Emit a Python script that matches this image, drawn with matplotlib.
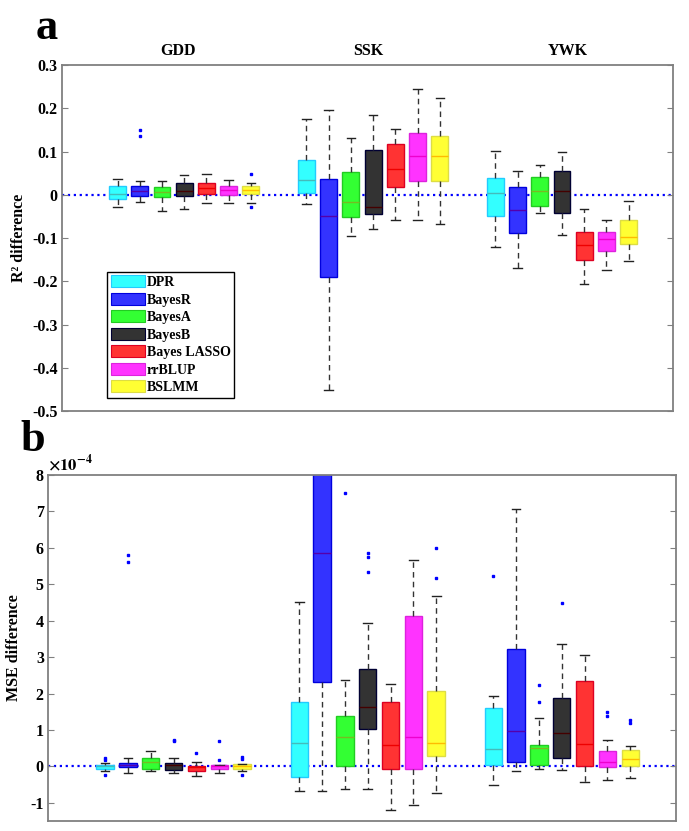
import numpy as np
import matplotlib
matplotlib.use('Agg')
from matplotlib import pyplot as plt
from matplotlib.patches import Patch

plt.rcParams['font.family'] = ['Liberation Serif', 'DejaVu Serif']
plt.rcParams['font.weight'] = 'bold'
plt.rcParams['axes.unicode_minus'] = False
plt.rcParams['mathtext.fontset'] = 'stix'

methods = ['DPR', 'BayesR', 'BayesA', 'BayesB', 'Bayes LASSO', 'rrBLUP', 'BSLMM']
groups = ['GDD', 'SSK', 'YWK']

face_colors = ['#33ffff', '#3333ff', '#33ff33', '#333333', '#ff3333', '#ff33ff', '#ffff33']
edge_colors = ['#22ccff', '#0000dd', '#22cc22', '#000033', '#dd0022', '#dd22dd', '#dddd44']
median_colors = ['#44bbbb', '#5500aa', '#77bb22', '#440000', '#ee0000', '#ee00cc', '#ffbb00']

# R2 difference, order: GDD x7, SSK x7, YWK x7
r2_whislo = [-0.028, -0.017, -0.038, -0.032, -0.019, -0.019, -0.018,
             -0.022, -0.452, -0.095, -0.078, -0.058, -0.058, -0.067,
             -0.121, -0.169, -0.042, -0.092, -0.206, -0.173, -0.154]
r2_q1 = [-0.009, -0.002, -0.005, -0.002, 0.001, 0.000, 0.0015,
         0.003, -0.189, -0.052, -0.044, 0.017, 0.032, 0.032,
         -0.049, -0.089, -0.025, -0.042, -0.150, -0.129, -0.114]
r2_med = [0.002, 0.009, 0.0075, 0.008, 0.016, 0.0115, 0.0115,
          0.034, -0.050, -0.017, -0.028, 0.059, 0.090, 0.089,
          0.005, -0.035, 0.008, 0.008, -0.117, -0.102, -0.098]
r2_q3 = [0.021, 0.021, 0.019, 0.027, 0.028, 0.021, 0.020,
         0.080, 0.036, 0.052, 0.104, 0.117, 0.142, 0.135,
         0.039, 0.019, 0.042, 0.056, -0.086, -0.085, -0.058]
r2_whishi = [0.036, 0.031, 0.031, 0.045, 0.049, 0.034, 0.027,
             0.176, 0.196, 0.131, 0.185, 0.152, 0.245, 0.224,
             0.102, 0.054, 0.069, 0.100, -0.033, -0.058, -0.015]
r2_fliers = [[], [0.150, 0.137], [], [], [], [], [0.049, -0.028],
             [], [], [], [], [], [], [],
             [], [], [], [], [], [], []]

# MSE difference, in units of 1e-4
mse_whislo = [-0.12, -0.17, -0.13, -0.17, -0.26, -0.17, -0.12,
              -0.68, -0.68, -0.63, -0.62, -1.19, -1.05, -0.73,
              -0.50, -0.13, -0.07, -0.09, -0.42, -0.38, -0.31]
mse_q1 = [-0.06, -0.03, -0.07, -0.09, -0.12, -0.08, -0.06,
          -0.28, 2.33, 0.02, 1.04, -0.06, -0.06, 0.28,
          0.04, 0.11, 0.04, 0.23, 0.00, -0.02, 0.00]
mse_med = [0.00, 0.03, 0.12, 0.03, -0.03, 0.00, 0.02,
           0.65, 5.87, 0.82, 1.63, 0.60, 0.82, 0.64,
           0.49, 0.97, 0.51, 0.93, 0.61, 0.13, 0.19]
mse_q3 = [0.05, 0.10, 0.22, 0.10, 0.00, 0.04, 0.06,
          1.77, 9.50, 1.38, 2.68, 1.78, 4.12, 2.07,
          1.60, 3.22, 0.59, 1.89, 2.35, 0.41, 0.44]
mse_whishi = [0.08, 0.23, 0.43, 0.23, 0.12, 0.05, 0.07,
              4.50, 13.0, 2.38, 3.93, 2.26, 5.68, 4.67,
              1.94, 7.08, 1.33, 3.37, 3.06, 0.73, 0.57]
mse_fliers = [[0.23, 0.17, -0.25], [5.81, 5.60], [], [0.73, 0.69], [0.36], [0.71, 0.17], [0.27, 0.20, -0.25],
              [], [], [7.50], [5.85, 5.74, 5.34], [], [], [6.00, 5.17],
              [5.22], [], [2.24, 1.76], [4.48], [], [1.49, 1.39], [1.28, 1.19]]

positions = np.concatenate([1 + g * 8.5 + np.arange(7) for g in range(3)])
group_label_x = [3.7, 12.3, 21.25]


def make_stats(lo, q1, med, q3, hi, fl):
    return [dict(whislo=lo[i], q1=q1[i], med=med[i], q3=q3[i], whishi=hi[i],
                 fliers=np.array(fl[i])) for i in range(len(lo))]


def draw_panel(ax, stats):
    ax.axhline(0, color='#0000ff', ls=':', lw=1.6, zorder=1)
    for i, st in enumerate(stats):
        m = i % 7
        ax.bxp([st], positions=[positions[i]], widths=0.76, capwidths=0.38,
               patch_artist=True, manage_ticks=False,
               boxprops=dict(facecolor=face_colors[m], edgecolor=edge_colors[m], lw=1.0),
               medianprops=dict(color=median_colors[m], lw=1.0),
               whiskerprops=dict(color='#333333', ls=(0, (4, 3)), lw=1.0),
               capprops=dict(color='#222222', lw=1.0),
               flierprops=dict(marker='s', markersize=1.6, markerfacecolor='#0000ff',
                               markeredgecolor='#0000ff', ls='none'))
    ax.set_xlim(-1.5, 26)
    ax.set_xticks([])
    for sp in ax.spines.values():
        sp.set_color('#808080')
        sp.set_linewidth(1.3)
    ax.tick_params(axis='y', direction='in', right=True, length=4, color='#808080',
                   labelsize=11.5, labelcolor='black', pad=3)


fig = plt.figure(figsize=(6.89, 8.31), dpi=100)
ax1 = fig.add_axes([0.090, 0.5054, 0.887, 0.4163])
ax2 = fig.add_axes([0.0697, 0.0120, 0.9113, 0.4164])

draw_panel(ax1, make_stats(r2_whislo, r2_q1, r2_med, r2_q3, r2_whishi, r2_fliers))
ax1.set_ylim(-0.5, 0.3)
ax1.set_yticks(np.arange(-0.5, 0.31, 0.1))
ax1.set_yticklabels(['-0.5', '-0.4', '-0.3', '-0.2', '-0.1', '0', '0.1', '0.2', '0.3'])
ax1.set_ylabel('R² difference', fontsize=11.5, fontweight='bold', labelpad=4)
for gx, gname in zip(group_label_x, groups):
    ax1.text(gx, 1.018, gname, transform=ax1.get_xaxis_transform(), ha='center', va='bottom',
             fontsize=11.5, fontweight='bold')

handles = [Patch(facecolor=face_colors[m], edgecolor=edge_colors[m], lw=0.8) for m in range(7)]
leg = ax1.legend(handles, methods, loc='upper left', bbox_to_anchor=(0.074, 0.402),
                 fontsize=10, handlelength=2.5, handleheight=0.95, labelspacing=0.27,
                 handletextpad=0.1, borderpad=0.25, borderaxespad=0, fancybox=False,
                 framealpha=1, edgecolor='black')
leg.get_frame().set_linewidth(1.0)

draw_panel(ax2, make_stats(mse_whislo, mse_q1, mse_med, mse_q3, mse_whishi, mse_fliers))
ax2.set_ylim(-1.5, 8)
ax2.set_yticks(np.arange(-1, 9, 1))
ax2.set_ylabel('MSE difference', fontsize=11.5, fontweight='bold', labelpad=6)
ax2.text(0.0, 1.003, r'$\times 10^{-4}$', transform=ax2.transAxes, ha='left', va='bottom',
         fontsize=12, fontweight='normal')

fig.text(47 / 689, 1 - 28 / 831, 'a', ha='center', va='center', fontsize=32, fontweight='bold')
fig.text(33 / 689, 1 - 440 / 831, 'b', ha='center', va='center', fontsize=32, fontweight='bold')

fig.savefig('out.png', dpi=100)
